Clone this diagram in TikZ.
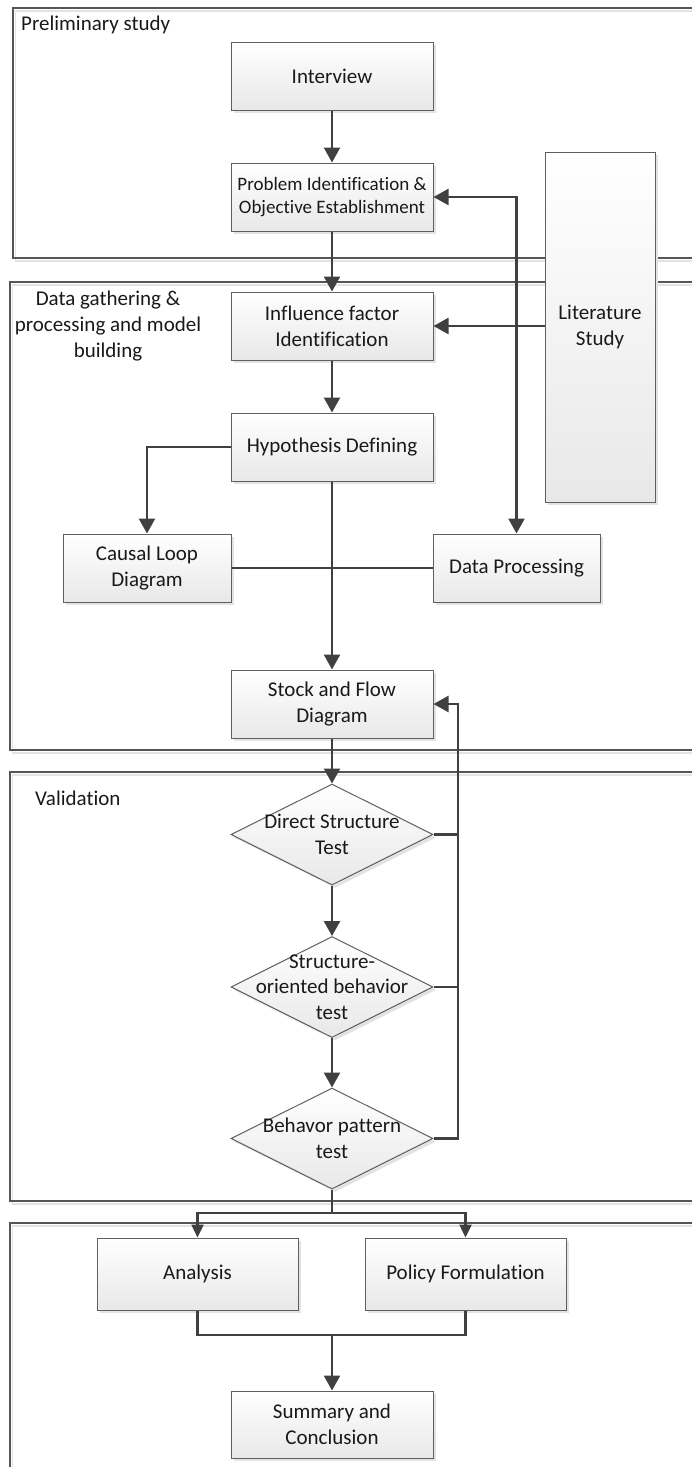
\documentclass[tikz,border=0pt]{standalone}
\usepackage{fontspec}
\setmainfont{Carlito}[Ligatures=NoCommon]
\usetikzlibrary{arrows.meta,shapes.geometric,shadows}
\definecolor{linkcol}{HTML}{404040}
\definecolor{edgecol}{HTML}{5F5F5F}
\definecolor{panelcol}{HTML}{555555}

\begin{document}
\begin{tikzpicture}[x=1pt,y=-1pt,
  every node/.style={font=\fontsize{21}{25.6}\selectfont, text=black!90},
  shade/.style={top color=white, bottom color=gray!18},
  softshadow/.style={drop shadow={shadow xshift=3pt, shadow yshift=-3pt, fill=gray!22, opacity=1}},
  box/.style={rectangle, draw=edgecol, line width=1pt, shade, softshadow,
    minimum width=202pt, minimum height=68pt, inner sep=0pt, align=center},
  dia/.style={diamond, draw=edgecol, line width=1pt, shade, softshadow,
    minimum width=202pt, minimum height=101pt, inner sep=0pt},
  panelbox/.style={draw=panelcol, line width=1.1pt},
  panelshadow/.style={draw=gray!22, line width=1.6pt},
  link/.style={draw=linkcol, line width=2.4pt},
  arr/.style={link, -{Triangle[length=15pt,width=16pt]}},
  biarr/.style={link, {Triangle[length=15pt,width=16pt]}-{Triangle[length=15pt,width=16pt]}},
  smallarr/.style={link, -{Triangle[length=13pt,width=12pt]}}
]
\useasboundingbox (0,0) rectangle (692,1467);
\clip (0,0) rectangle (692,1467);

% stage panels (open to the right edge)
\draw[panelshadow] (15.5,11) rectangle (720,261);
\draw[panelbox] (13,8) rectangle (720,258);
\draw[panelshadow] (12.5,285) rectangle (720,753);
\draw[panelbox] (10,282) rectangle (720,750);
\draw[panelshadow] (12.5,775) rectangle (720,1204);
\draw[panelbox] (10,772) rectangle (720,1201);
\draw[panelshadow] (12.5,1226) rectangle (720,1490);
\draw[panelbox] (10,1223) rectangle (720,1490);

% stage titles
\node[anchor=west, inner sep=0pt] (t1) at (21,25) {Preliminary study};
\node[align=center, inner sep=0pt] (t2) at (108,326) {Data gathering \&\\processing and model\\building};
\node[anchor=west, inner sep=0pt] (t3) at (35,798) {Validation};

% process steps
\node[box] (interview) at (332,76) {Interview};
\node[box, font=\fontsize{19}{23.5}\selectfont] (problem) at (332,197) {Problem Identification \&\\Objective Establishment};
\node[box, minimum width=110pt, minimum height=350pt] (literature) at (600,327) {Literature\\Study};
\node[box] (influence) at (332,326) {Influence factor\\Identification};
\node[box] (hypothesis) at (332,447) {Hypothesis Defining};
\node[box, minimum width=168pt] (causal) at (147,568) {Causal Loop\\Diagram};
\node[box, minimum width=167pt] (dataproc) at (516.5,568) {Data Processing};
\node[box] (stock) at (332,704) {Stock and Flow\\Diagram};

\node[dia, label={[align=center]center:Direct Structure\\Test}] (d1) at (332,834.5) {};
\node[dia, label={[align=center]center:Structure-\\oriented behavior\\test}] (d2) at (332,987) {};
\node[dia, label={[align=center]center:Behavor pattern\\test}] (d3) at (332,1138.5) {};

\node[box, minimum width=201pt, minimum height=72pt] (analysis) at (197.5,1274) {Analysis};
\node[box, minimum width=201pt, minimum height=72pt] (policy) at (465.5,1274) {Policy Formulation};
\node[box, minimum height=67pt] (summary) at (332,1424.5) {Summary and\\Conclusion};

% helper points
\coordinate (fb) at (458,704);
\coordinate (split) at (332,1213);
\coordinate (merge) at (332,1335);

% connectors
\draw[arr] (interview) -- (problem);
\draw[arr] (problem) -- (influence);
\draw[biarr] (problem.east) -| (dataproc.north);
\draw[arr] (literature.west |- influence.east) -- (influence.east);
\draw[arr] (influence) -- (hypothesis);
\draw[arr] (hypothesis.west) -| (causal.north);
\draw[link] (causal.east) -- (dataproc.west);
\draw[arr] (hypothesis) -- (stock);
\draw[arr] (stock) -- (d1);
\draw[arr] (d1) -- (d2);
\draw[arr] (d2) -- (d3);
\draw[link] (d1.east) -- (d1.east -| fb);
\draw[link] (d2.east) -- (d2.east -| fb);
\draw[arr] (d3.east) -| (fb) -- (stock.east);
\draw[link] (d3.south) -- (split);
\draw[smallarr] (split) -| (analysis.north);
\draw[smallarr] (split) -| (policy.north);
\draw[link] (analysis.south) |- (merge) -| (policy.south);
\draw[arr] (merge) -- (summary);
\end{tikzpicture}
\end{document}
